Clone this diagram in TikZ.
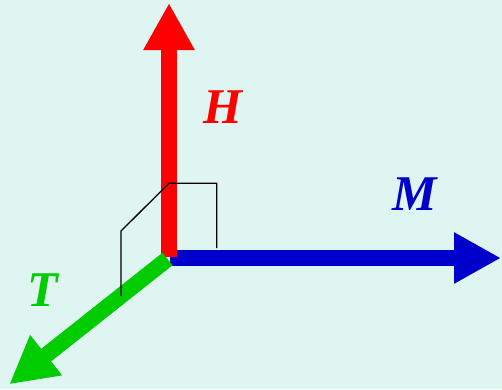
\documentclass[tikz,border=0pt]{standalone}
\usepackage{fontspec}
\setmainfont{Liberation Serif}
\usetikzlibrary{arrows.meta}
\definecolor{bgc}{RGB}{223,245,241}
\definecolor{hred}{RGB}{255,0,0}
\definecolor{mblue}{RGB}{0,0,204}
\definecolor{tgreen}{RGB}{0,204,0}
\tikzset{
  vec/.style={line width=16pt, -{Triangle[width=48pt,length=47pt]}},
  frame/.style={line width=1.3pt, black},
  lbl/.style={font=\fontsize{50}{60}\selectfont\bfseries\itshape, inner sep=0pt, anchor=base west}
}
\begin{document}
\begin{tikzpicture}[x=1pt,y=-1pt]
\fill[bgc] (0,0) rectangle (502,389);
\useasboundingbox (0,0) rectangle (502,389);
\coordinate (Ored) at (169,257);
\coordinate (Htip) at (169,3);
\coordinate (Oblue) at (170,258);
\coordinate (Mtip) at (501,258);
\coordinate (Ogreen) at (167.5,259);
\coordinate (Ttip) at (9.3,384.3);
\coordinate (f1) at (121,296);
\coordinate (f2) at (121,231);
\coordinate (f3) at (169,183.3);
\coordinate (f4) at (216.7,183.3);
\coordinate (f5) at (216.7,248);
\draw[vec, mblue] (Oblue) -- (Mtip);
\draw[vec, hred] (Ored) -- (Htip);
\draw[vec, tgreen] (Ogreen) -- (Ttip);
\draw[frame] (f1) -- (f2) -- (f3) -- (f4) -- (f5);
\node[lbl, text=hred] (H) at (203,123) {H};
\node[lbl, text=mblue] (M) at (392,210) {M};
\node[lbl, text=tgreen] (T) at (27,306) {T};
\end{tikzpicture}
\end{document}
